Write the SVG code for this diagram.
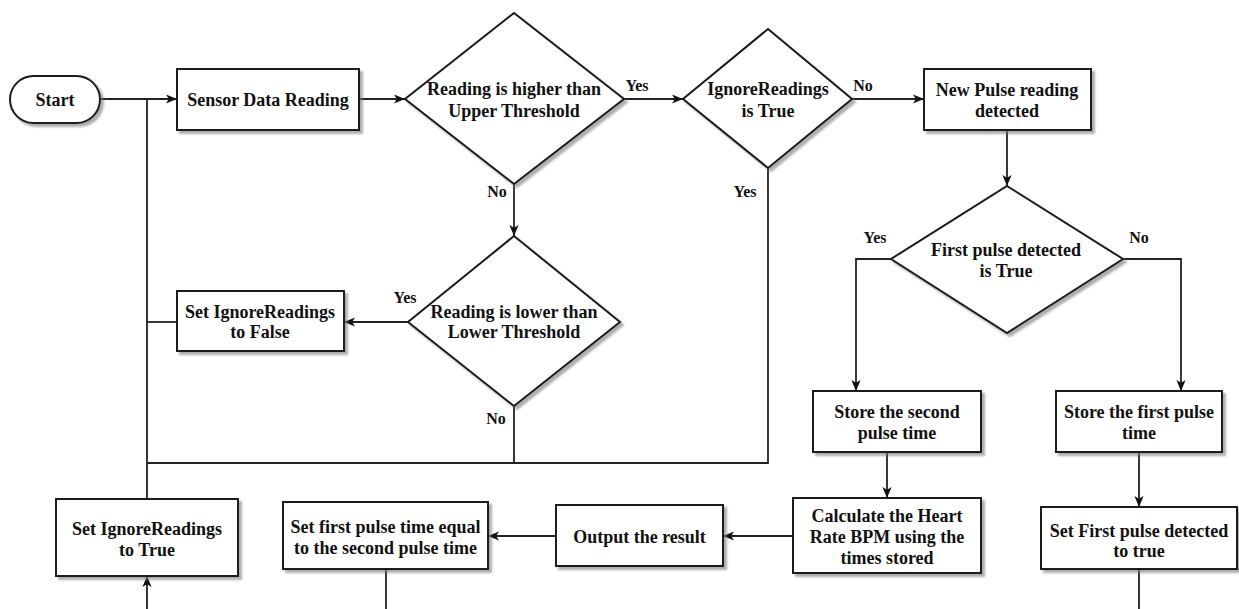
<svg xmlns="http://www.w3.org/2000/svg" width="1239" height="609" viewBox="0 0 1239 609">
  <defs>
    <filter id="shadow" x="-10%" y="-10%" width="130%" height="130%">
      <feDropShadow dx="3" dy="3" stdDeviation="1.2" flood-color="#777" flood-opacity="0.6"/>
    </filter>
    <marker id="arrow" viewBox="0 0 10 10" refX="10" refY="5" markerWidth="11" markerHeight="11" markerUnits="userSpaceOnUse" orient="auto">
      <path d="M0,0.8 L10,5 L0,9.2 L2.6,5 z" fill="#111"/>
    </marker>
  </defs>
  <style>
    .shape { fill: #fff; stroke: #1a1a1a; stroke-width: 2; filter: url(#shadow); }
    .link { fill: none; stroke: #222; stroke-width: 1.8; }
    .arrow { marker-end: url(#arrow); }
    text { font-family: "Liberation Serif", "Times New Roman", serif; fill: #111; }
    .t { font-size: 18px; font-weight: bold; text-anchor: middle; }
    .lbl { font-size: 16px; font-weight: bold; text-anchor: middle; }
  </style>

  <rect width="1239" height="609" fill="#fff"/>

  <!-- connectors -->
  <g id="connectors">
    <path class="link arrow" d="M100,99 H177"/>
    <path class="link" d="M147,499 V99"/>
    <path class="link arrow" d="M359,99 H405"/>
    <path class="link arrow" d="M624,99 H683"/>
    <path class="link arrow" d="M852,99 H924"/>
    <path class="link arrow" d="M1007,130 V186"/>
    <path class="link arrow" d="M514,184 V236"/>
    <path class="link arrow" d="M408,322 H344"/>
    <path class="link" d="M177,322 H147"/>
    <path class="link" d="M514,406 V463"/>
    <path class="link" d="M768,168 V463 H147"/>
    <path class="link arrow" d="M891,259 H856 V391"/>
    <path class="link arrow" d="M1123,259 H1181 V391"/>
    <path class="link arrow" d="M887,452 V498"/>
    <path class="link arrow" d="M1139,452 V507"/>
    <path class="link" d="M1139,569 V609"/>
    <path class="link arrow" d="M793,536 H723"/>
    <path class="link arrow" d="M556,536 H488"/>
    <path class="link" d="M386,569 V609"/>
    <path class="link arrow" d="M147,609 V576"/>
  </g>

  <!-- edge labels -->
  <g id="labels">
    <text class="lbl" x="637" y="91">Yes</text>
    <text class="lbl" x="863" y="91">No</text>
    <text class="lbl" x="497" y="197">No</text>
    <text class="lbl" x="745" y="197">Yes</text>
    <text class="lbl" x="405" y="303">Yes</text>
    <text class="lbl" x="496" y="424">No</text>
    <text class="lbl" x="875" y="243">Yes</text>
    <text class="lbl" x="1139" y="243">No</text>
  </g>

  <g id="start">
    <rect class="shape" x="10" y="76" width="90" height="47" rx="23.5" ry="23.5"/>
    <text class="t" x="55" y="106">Start</text>
  </g>

  <g id="sensor-reading">
    <rect class="shape" x="177" y="69" width="182" height="61"/>
    <text class="t" x="268" y="106">Sensor Data Reading</text>
  </g>

  <g id="check-upper">
    <polygon class="shape" points="514,13 624,99 514,184 405,99"/>
    <text class="t" x="514" y="95">Reading is higher than</text>
    <text class="t" x="514" y="116.5">Upper Threshold</text>
  </g>

  <g id="check-ignore">
    <polygon class="shape" points="768,29 852,99 768,168 683,99"/>
    <text class="t" x="768" y="95">IgnoreReadings</text>
    <text class="t" x="768" y="116.5">is True</text>
  </g>

  <g id="new-pulse">
    <rect class="shape" x="924" y="69" width="167" height="61"/>
    <text class="t" x="1007" y="96">New Pulse reading</text>
    <text class="t" x="1007" y="117">detected</text>
  </g>

  <g id="check-first-pulse">
    <polygon class="shape" points="1007,186 1123,259 1007,333 891,259"/>
    <text class="t" x="1006" y="256">First pulse detected</text>
    <text class="t" x="1006" y="277">is True</text>
  </g>

  <g id="check-lower">
    <polygon class="shape" points="514,236 620,322 514,406 408,322"/>
    <text class="t" x="514" y="318">Reading is lower than</text>
    <text class="t" x="514" y="338">Lower Threshold</text>
  </g>

  <g id="set-ignore-false">
    <rect class="shape" x="177" y="291" width="167" height="60"/>
    <text class="t" x="260" y="318">Set IgnoreReadings</text>
    <text class="t" x="260" y="338">to False</text>
  </g>

  <g id="set-ignore-true">
    <rect class="shape" x="56" y="499" width="182" height="77"/>
    <text class="t" x="147" y="535">Set IgnoreReadings</text>
    <text class="t" x="147" y="556">to True</text>
  </g>

  <g id="set-first-time">
    <rect class="shape" x="283" y="502" width="205" height="67"/>
    <text class="t" x="385.5" y="533">Set first pulse time equal</text>
    <text class="t" x="385.5" y="554">to the second pulse time</text>
  </g>

  <g id="output-result">
    <rect class="shape" x="556" y="505" width="167" height="61"/>
    <text class="t" x="639.5" y="543">Output the result</text>
  </g>

  <g id="calculate-bpm">
    <rect class="shape" x="793" y="498" width="188" height="75"/>
    <text class="t" x="887" y="522">Calculate the Heart</text>
    <text class="t" x="887" y="543">Rate BPM using the</text>
    <text class="t" x="887" y="564">times stored</text>
  </g>

  <g id="store-second">
    <rect class="shape" x="813" y="391" width="168" height="61"/>
    <text class="t" x="897" y="418">Store the second</text>
    <text class="t" x="897" y="439">pulse time</text>
  </g>

  <g id="store-first">
    <rect class="shape" x="1056" y="391" width="166" height="61"/>
    <text class="t" x="1139" y="418">Store the first pulse</text>
    <text class="t" x="1139" y="439">time</text>
  </g>

  <g id="set-first-detected">
    <rect class="shape" x="1041" y="507" width="196" height="62"/>
    <text class="t" x="1139" y="537">Set First pulse detected</text>
    <text class="t" x="1139" y="557">to true</text>
  </g>
</svg>
